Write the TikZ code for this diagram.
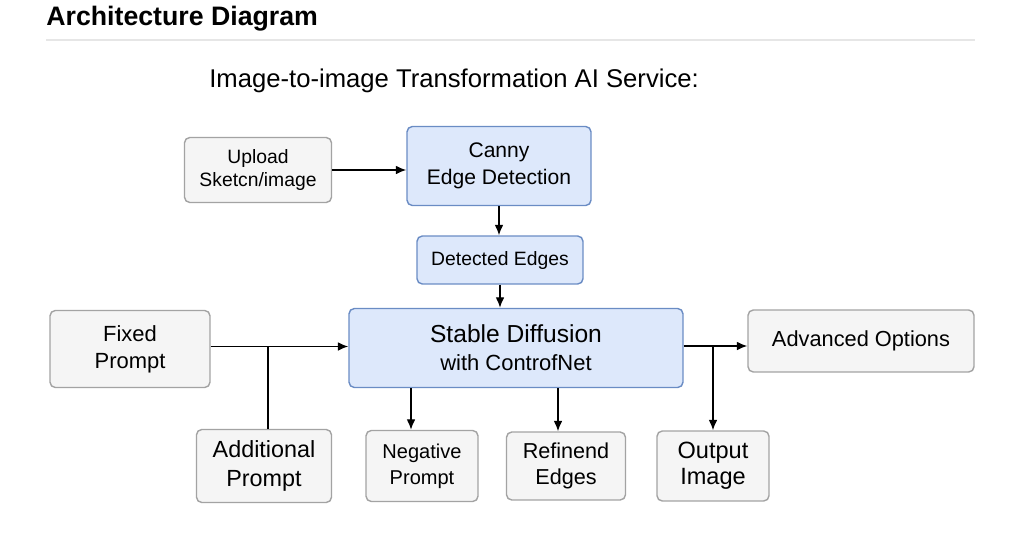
\documentclass[tikz,border=0pt]{standalone}
\usepackage{fontspec}
\setmainfont{Liberation Sans}
\usetikzlibrary{arrows.meta}

\definecolor{boxfill}{HTML}{F5F5F5}
\definecolor{boxline}{HTML}{A3A3A3}
\definecolor{bluefill}{HTML}{DDE8FB}
\definecolor{blueline}{HTML}{6A8CC4}
\definecolor{ruleline}{HTML}{E6E6E6}

\tikzset{
  graybox/.style={draw=boxline, fill=boxfill, line width=0.8pt, rounded corners=3pt, align=center, inner sep=0pt},
  bluebox/.style={draw=blueline, fill=bluefill, line width=0.8pt, rounded corners=3pt, align=center, inner sep=0pt},
  arr/.style={-{Latex[length=6pt,width=5pt]}, line width=0.8pt, black}
}

\begin{document}
\begin{tikzpicture}[x=0.02cm, y=-0.02cm]
            \useasboundingbox (0,0) rectangle (1024,541);

            % Titulos
            \node[anchor=base west, inner sep=0pt, font=\fontsize{15.2pt}{18pt}\selectfont\bfseries] (title) at (46,26) {Architecture Diagram};
            \draw[ruleline, line width=0.6pt] (46,40) -- (975,40);
            \node[anchor=west, inner sep=0pt, font=\fontsize{14.6pt}{17pt}\selectfont] (subtitle) at (209,81) {Image-to-image Transformation AI Service:};

            % Cajas de arriba
            \node[graybox, minimum width=2.94cm, minimum height=1.30cm, font=\fontsize{11pt}{13.5pt}\selectfont] (upload) at (258,170) {Upload\\Sketcn/image};
            \node[bluebox, minimum width=3.68cm, minimum height=1.58cm, font=\fontsize{12pt}{15pt}\selectfont] (canny) at (499,166) {Canny\\Edge Detection};
            \node[bluebox, minimum width=3.32cm, minimum height=0.96cm, font=\fontsize{11pt}{13pt}\selectfont] (detected) at (500,260) {Detected Edges};

            % Caja central
            \node[bluebox, minimum width=6.68cm, minimum height=1.58cm] (sd) at (516,348) {{\fontsize{14pt}{17pt}\selectfont Stable Diffusion}\\[4pt]{\fontsize{12.5pt}{15pt}\selectfont with ControfNet}};
            \node[graybox, minimum width=3.20cm, minimum height=1.54cm, font=\fontsize{12.5pt}{15.5pt}\selectfont] (fixed) at (130,349) {Fixed\\Prompt};
            \node[graybox, minimum width=4.52cm, minimum height=1.24cm, font=\fontsize{12.4pt}{15pt}\selectfont] (advanced) at (861,341) {Advanced Options};

            % Cajas de abajo
            \node[graybox, minimum width=2.70cm, minimum height=1.46cm, font=\fontsize{13.3pt}{16.5pt}\selectfont] (additional) at (264,466) {Additional\\Prompt};
            \node[graybox, minimum width=2.24cm, minimum height=1.42cm, font=\fontsize{11.4pt}{15pt}\selectfont] (negative) at (422,466) {Negative\\Prompt};
            \node[graybox, minimum width=2.38cm, minimum height=1.36cm, font=\fontsize{12.3pt}{15pt}\selectfont] (refined) at (566,466) {Refinend\\Edges};
            \node[graybox, minimum width=2.24cm, minimum height=1.40cm, font=\fontsize{13.4pt}{15pt}\selectfont] (output) at (713,466) {Output\\Image};

            % Flechas
            \draw[arr] (upload.east) -- (upload.east -| canny.west);
            \draw[arr] (canny.south) -- (canny.south |- detected.north);
            \draw[arr] (detected.south) -- (detected.south |- sd.north);
            \draw[arr] ([yshift=0.05cm]fixed.east) -- ([yshift=0.05cm]fixed.east -| sd.west);
            \draw[line width=0.8pt] ([xshift=0.08cm]additional.north) -- ([xshift=0.08cm,yshift=0.05cm]additional.north |- fixed.east);
            \draw[arr] ([xshift=-0.22cm]negative.north |- sd.south) -- ([xshift=-0.22cm]negative.north);
            \draw[arr] ([xshift=-0.16cm]refined.north |- sd.south) -- ([xshift=-0.16cm]refined.north);
            \draw[arr] ([yshift=0.04cm]sd.east) -- ([yshift=0.04cm]sd.east -| advanced.west);
            \draw[arr] ([yshift=0.04cm]sd.east -| output.north) -- (output.north);
        \end{tikzpicture}
\end{document}
